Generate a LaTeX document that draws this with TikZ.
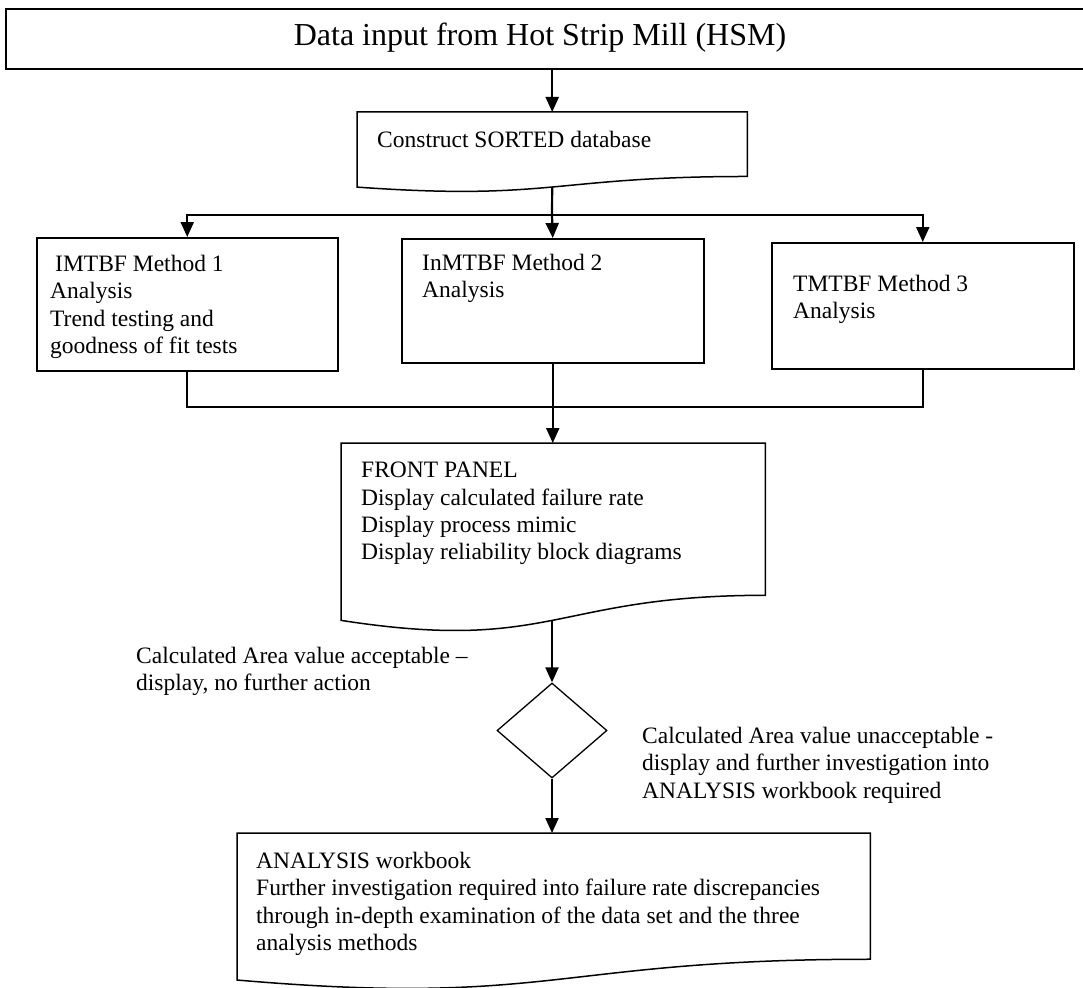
\documentclass[tikz,border=0pt]{standalone}
\usepackage{fontspec}
\setmainfont{Liberation Serif}
\usetikzlibrary{arrows.meta,positioning,calc,shapes.geometric}

% outline of a flowchart "document" shape around an empty node
\newcommand{\docoutline}[1]{%
  \draw[frame] (#1.north west) -- (#1.north east)
    -- ($(#1.north east)!0.802!(#1.south east)$)
    .. controls ($(#1.north)!0.802!(#1.south)$) and ($(#1.north)!1.1075!(#1.south)$)
    .. ($(#1.north west)!0.934!(#1.south west)$) -- cycle;}

\begin{document}
\begin{tikzpicture}[
  x=1pt, y=-1pt,
  font=\fontsize{23.5}{27.3}\selectfont,
  frame/.style={line width=1.5pt},
  box/.style={draw, line width=1.5pt, inner sep=0pt, anchor=north west},
  shell/.style={inner sep=0pt, anchor=north west},
  txt/.style={inner sep=0pt, anchor=north west, align=left},
  link/.style={line width=2.2pt},
  arrow/.style={line width=2.2pt, -{Triangle[length=15pt,width=13pt]}},
  decision/.style={draw, diamond, line width=1.3pt, inner sep=0pt, minimum width=110pt, minimum height=95pt}
]
\useasboundingbox (0,0) rectangle (1083,987);

\node[box, line width=1.8pt, minimum width=1090pt, minimum height=60pt] (hsm) at (5,8) {};
\node[font=\fontsize{32}{38}\selectfont] (hsmtext) at (540,38) {Data input from Hot Strip Mill (HSM)};

\node[shell, minimum width=390pt, minimum height=80pt] (sorted) at (357,112) {};
\node[txt] (sortedtext) at ([shift={(20,19)}]sorted.north west) {Construct SORTED database};
\docoutline{sorted}

\node[box, minimum width=301pt, minimum height=133pt] (imtbf) at (36,237) {};
\node[txt] (imtbftext) at ([shift={(14,18)}]imtbf.north west) {\hspace{5pt}IMTBF Method 1\\Analysis\\Trend testing and\\goodness of fit tests};

\node[box, minimum width=302pt, minimum height=124pt] (inmtbf) at (401,238) {};
\node[txt] (inmtbftext) at ([shift={(21,16)}]inmtbf.north west) {InMTBF Method 2\\Analysis};

\node[box, minimum width=302pt, minimum height=126pt] (tmtbf) at (771,242) {};
\node[txt] (tmtbftext) at ([shift={(22,33)}]tmtbf.north west) {TMTBF Method 3\\Analysis};

\node[shell, minimum width=424pt, minimum height=189.5pt] (front) at (341,443) {};
\node[txt] (fronttext) at ([shift={(20,19)}]front.north west) {FRONT PANEL\\Display calculated failure rate\\Display process mimic\\Display reliability block diagrams};
\docoutline{front}

\node[decision] (check) at (552,730.5) {};

\node[shell, minimum width=633pt, minimum height=157pt] (workbook) at (237,833) {};
\node[txt] (workbooktext) at ([shift={(19,19)}]workbook.north west) {ANALYSIS workbook\\Further investigation required into failure rate discrepancies\\through in-depth examination of the data set and the three\\analysis methods};
\docoutline{workbook}

\node[txt] (accepted) at (136,647) {Calculated Area value acceptable --\\display, no further action};
\node[txt] (rejected) at (642,727) {Calculated Area value unacceptable -\\display and further investigation into\\ANALYSIS workbook required};

% connectors
\coordinate (split) at (552,215);
\coordinate (merge) at (552,407);
\coordinate (sortedfoot) at ($(sorted.north)!0.93!(sorted.south)$);
\coordinate (frontfoot) at ($(front.north)!0.93!(front.south)$);
\draw[arrow] (hsm.south -| sorted.north) -- (sorted.north);
\draw[link] (sortedfoot) -- (split);
\draw[arrow] (split) -| (imtbf.north);
\draw[arrow] (split) -- (inmtbf.north);
\draw[arrow] (split) -| (tmtbf.north);
\draw[link] (imtbf.south) |- (merge);
\draw[link] (tmtbf.south) |- (merge);
\draw[arrow] (inmtbf.south) -- (inmtbf.south |- front.north);
\draw[arrow] (check.north |- frontfoot) -- (check.north);
\draw[arrow] (check.south) -- (check.south |- workbook.north);

\end{tikzpicture}
\end{document}
